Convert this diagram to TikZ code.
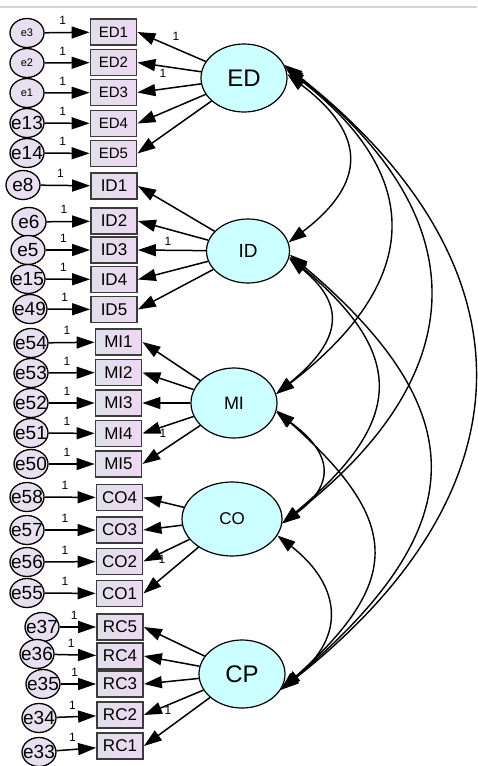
\documentclass[tikz,border=0pt]{standalone}
\usepackage{fontspec}
\setmainfont{Liberation Sans}
\usetikzlibrary{arrows.meta,shapes.geometric}
\definecolor{latfill}{HTML}{CCFFFF}
\definecolor{errfill}{HTML}{E8E0F0}
\definecolor{boxl}{HTML}{E0E0EA}
\definecolor{boxr}{HTML}{EED8F2}
\definecolor{boxline}{HTML}{3C3C3C}
\definecolor{topline}{HTML}{D4D4D4}
\begin{document}
\begin{tikzpicture}[x=1pt,y=-1pt,
  tip/.style={arrows={-Triangle[length=18pt,width=12pt]}, line width=1.5pt},
  cov/.style={arrows={Triangle[length=18pt,width=12pt]-Triangle[length=18pt,width=12pt]}, line width=1.4pt},
  obs/.style={draw=boxline, line width=1.8pt, left color=boxl, right color=boxr,
    minimum width=46pt, minimum height=26pt, inner sep=0pt, font=\fontsize{17}{20}\selectfont},
  obsE/.style={obs, font=\fontsize{15}{18}\selectfont},
  err/.style={ellipse, draw, line width=1.3pt, fill=errfill, minimum width=34pt,
    minimum height=29pt, inner sep=0pt, font=\fontsize{19}{22}\selectfont},
  errs/.style={err, font=\fontsize{11}{13}\selectfont},
  lat/.style={ellipse, draw, line width=1.2pt, fill=latfill, inner sep=0pt},
  one/.style={inner sep=0pt, font=\fontsize{12}{14}\selectfont},
  eone/.style={one, pos=0.4, above=7pt}
]
\useasboundingbox (0,0) rectangle (477,766);
\fill[white] (0,0) rectangle (477,766);
\draw[topline, line width=1.5pt] (0,7) -- (477,7);

% latent variables
\node[lat, minimum width=86pt, minimum height=68pt, font=\fontsize{24}{28}\selectfont] (ED) at (244,78) {ED};
\node[lat, minimum width=83pt, minimum height=64pt, font=\fontsize{19}{22}\selectfont] (ID) at (248,251) {ID};
\node[lat, minimum width=86pt, minimum height=70pt, font=\fontsize{18}{22}\selectfont] (MI) at (234,403) {MI};
\node[lat, minimum width=100pt, minimum height=74pt, font=\fontsize{17}{20}\selectfont] (CO) at (232,519) {CO};
\node[lat, minimum width=86pt, minimum height=68pt, font=\fontsize{24}{28}\selectfont] (CP) at (242,674) {CP};

% observed boxes
\foreach \n/\y in {ED1/32, ED2/62.5, ED3/92.5, ED4/123.5, ED5/153.5}
  \node[obsE] (\n) at (113.5,\y) {\n};
\foreach \n/\y in {ID1/186, ID2/221, ID3/250, ID4/279.5, ID5/309.5}
  \node[obs] (\n) at (114,\y) {\n};
\foreach \n/\y in {MI1/342, MI2/372.5, MI3/403, MI4/433.5, MI5/464}
  \node[obs] (\n) at (118.5,\y) {\n};
\foreach \n/\y in {CO4/497.5, CO3/530, CO2/561.5, CO1/593.5}
  \node[obs] (\n) at (119.5,\y) {\n};
\foreach \n/\y in {RC5/627, RC4/656, RC3/684, RC2/715, RC1/746}
  \node[obs] (\n) at (120,\y) {\n};

% error terms
\foreach \n/\x/\y in {e3/27/33, e2/27/63, e1/27/93}
  \node[errs] (\n) at (\x,\y) {\makebox[0pt]{\n}};
\foreach \n/\x/\y in {e13/27/123, e14/27/153, e8/23/185, e6/29/222, e5/28/250, e15/28/279, e49/30/309,
  e54/31/343, e53/31/373, e52/31/403, e51/31/433, e50/31/464,
  e58/27/497, e57/27/530, e56/27/562, e55/27/593,
  e37/42/627, e36/37/654, e35/43/684, e34/39/718, e33/39/752}
  \node[err] (\n) at (\x,\y) {\makebox[0pt]{\n}};

% error arrows
\foreach \e/\b in {e3/ED1, e2/ED2, e1/ED3, e13/ED4, e14/ED5,
  e8/ID1, e6/ID2, e5/ID3, e15/ID4, e49/ID5,
  e54/MI1, e53/MI2, e52/MI3, e51/MI4, e50/MI5,
  e58/CO4, e57/CO3, e56/CO2, e55/CO1,
  e37/RC5, e36/RC4, e35/RC3, e34/RC2, e33/RC1}
  \draw[tip] (\e) -- node[eone] {1} (\b);

% loadings
\foreach \b in {ED1, ED2, ED3, ED4, ED5} \draw[tip] (ED) -- (\b.east);
\foreach \b in {ID1, ID2, ID3, ID4, ID5} \draw[tip] (ID) -- (\b.east);
\foreach \b in {MI1, MI2, MI3, MI4, MI5} \draw[tip] (MI) -- (\b.east);
\foreach \b in {CO4, CO3, CO2, CO1} \draw[tip] (CO) -- (\b.east);
\foreach \b in {RC5, RC4, RC3, RC2, RC1} \draw[tip] (CP) -- (\b.east);

\node[one] (la) at (176,36) {1};
\node[one] (lb) at (163,73) {1};
\node[one] (lc) at (168,241) {1};
\node[one] (ld) at (163,433) {1};
\node[one] (le) at (162,559) {1};
\node[one] (lf) at (168,710) {1};

% covariances
\draw[cov] (ED.5) .. controls +(79,60) and +(79,-60) .. (ID.12);
\draw[cov] (ED.12) .. controls +(143,110) and +(143,-110) .. (MI.12);
\draw[cov] (ED.15) .. controls +(193,150) and +(193,-150) .. (CO.-5);
\draw[cov] (ED.18) .. controls +(254,200) and +(254,-200) .. (CP.-22);
\draw[cov] (ID.-10) .. controls +(61,50) and +(61,-50) .. (MI.12);
\draw[cov] (ID.-8) .. controls +(120,100) and +(120,-100) .. (CO.-5);
\draw[cov] (ID.-5) .. controls +(190,160) and +(190,-160) .. (CP.-22);
\draw[cov] (MI.-12) .. controls +(55,40) and +(55,-40) .. (CO.-5);
\draw[cov] (MI.-10) .. controls +(124,110) and +(124,-110) .. (CP.-22);
\draw[cov] (CO.-20) .. controls +(64,50) and +(64,-50) .. (CP.-18);
\end{tikzpicture}
\end{document}
